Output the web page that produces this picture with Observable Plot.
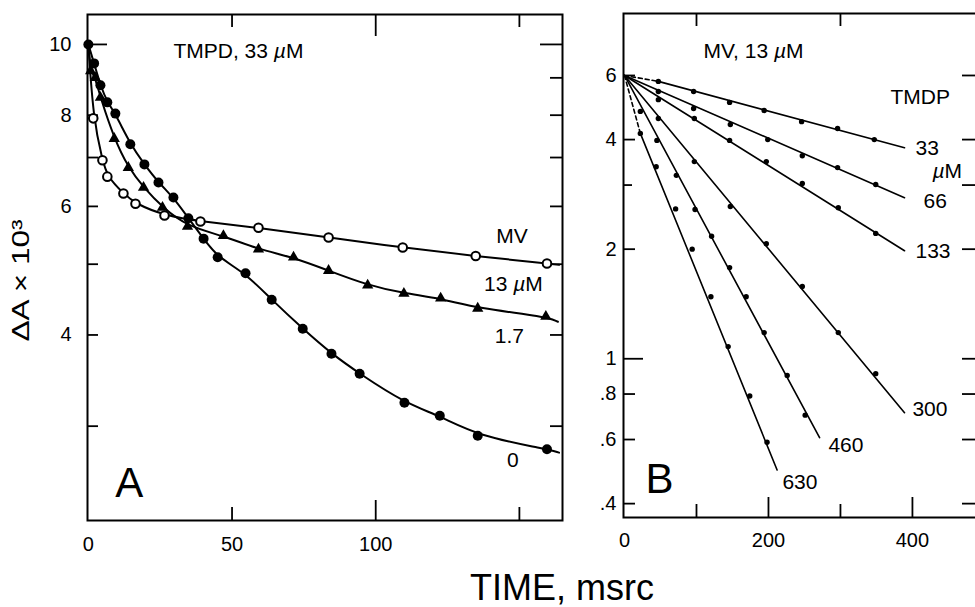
<!DOCTYPE html>
<html>
<head>
<meta charset="utf-8">
<script src="https://cdn.jsdelivr.net/npm/d3@7"></script>
<script src="https://cdn.jsdelivr.net/npm/@observablehq/plot@0.6"></script>
<style>
  html, body { margin: 0; padding: 0; background: #fff; }
  #root { position: relative; width: 975px; height: 607px; overflow: hidden; background: #fff;
          font-family: "Liberation Sans", Arial, Helvetica, sans-serif; color: #000; }
  #root svg { position: absolute; top: 0; }
  #xtitle { position: absolute; left: 362px; width: 400px; top: 570px; text-align: center;
            font-size: 36px; line-height: 1; white-space: nowrap; }
</style>
</head>
<body>
<div id="root"><div id="xtitle">TIME, msrc</div></div>
<script>
// ---------------- Panel A data (ΔA×10³ vs time, ms) ----------------
const aTime0  = [0, 2, 4.2, 6.6, 9.4, 14.6, 19.5, 24.4, 29.6, 34.8, 40.1, 45, 54.7, 63.8, 74.6, 84.6, 94.4, 110, 122.3, 135.5, 159.6];
const aVal0   = [10, 9.42, 8.79, 8.33, 8.04, 7.30, 6.85, 6.47, 6.17, 5.78, 5.42, 5.11, 4.86, 4.47, 4.08, 3.77, 3.54, 3.23, 3.10, 2.91, 2.79];
const aTime17 = [0, 0.8, 2.4, 4.2, 9.0, 13.9, 19.2, 25.8, 34.5, 47, 59.2, 71.4, 83.6, 97.2, 109.8, 122.6, 135.5, 159.2];
const aVal17  = [10, 9.2, 9.0, 8.46, 7.43, 6.78, 6.37, 5.98, 5.63, 5.47, 5.24, 5.11, 4.90, 4.68, 4.56, 4.49, 4.35, 4.24];
const aTime13 = [0, 1.7, 4.9, 6.6, 12.2, 16.4, 26.5, 39.0, 59.2, 83.6, 109.4, 134.8, 159.6];
const aVal13  = [10, 7.92, 6.94, 6.59, 6.25, 6.05, 5.83, 5.72, 5.61, 5.44, 5.27, 5.13, 5.01];
// where each drawn curve ends (0, 1.7, 13 µM MV)
const aEndTime = [163.8, 163.4, 163.8];
const aEndVal  = [2.76, 4.17, 4.99];

const aYTickLabels = [4, 6, 8, 10];
const aYTicksLeft  = [3, 4, 5, 6, 7, 8];
const aYTicksRight = [3, 4, 5, 6, 7, 8, 9];
const aYTicksLong  = [10];
const aXTickLabels = [0, 50, 100];
const aXTicksShort = [50, 150];
const aXTicksLong  = [100];

const aLabels   = ["MV", "13 µM", "1.7", "0"];
const aLabelX   = [147.4, 147.9, 146.5, 147.7];
const aLabelY   = [5.34, 4.60, 3.894, 2.634];

// ---------------- Panel B data (MV 13 µM, varying TMPD) ----------------
const bTime33  = [47, 96, 146, 194, 246, 296, 347];
const bVal33   = [5.78, 5.42, 5.06, 4.81, 4.48, 4.29, 4.00];
const bTime66  = [47, 96, 147, 199, 247, 296, 349];
const bVal66   = [5.42, 4.87, 4.40, 4.00, 3.61, 3.35, 3.01];
const bTime133 = [47, 97, 146, 197, 247, 297, 349];
const bVal133  = [5.15, 4.57, 3.98, 3.48, 3.03, 2.60, 2.21];
const bTime300 = [47, 97, 147, 197, 247, 297, 349];
const bVal300  = [4.57, 3.48, 2.62, 2.07, 1.58, 1.18, 0.91];
const bTime460 = [22, 45, 72, 98, 121, 146, 169, 194, 226, 251];
const bVal460  = [4.78, 3.98, 3.19, 2.57, 2.17, 1.78, 1.48, 1.18, 0.90, 0.70];
const bTime630 = [22, 44, 71, 94, 120, 144, 174, 198];
const bVal630  = [4.16, 3.37, 2.58, 2.00, 1.48, 1.08, 0.79, 0.59];
// fitted straight lines (log scale): start and end of each drawn line
const bLineStartTime = [47, 0, 0, 0, 0, 22];
const bLineStartVal  = [5.78, 6, 6, 6, 6, 4.16];
const bLineEndTime   = [389, 389, 389, 389, 271, 212];
const bLineEndVal    = [3.80, 2.77, 1.98, 0.711, 0.607, 0.495];
// dashed extrapolations back to t = 0 (33 and 630 µM)
const bDashStartTime = [0, 0];
const bDashStartVal  = [6, 6];
const bDashEndTime   = [47, 22];
const bDashEndVal    = [5.78, 4.16];

const bYTickLabelVals = [6, 4, 2, 1, 0.8, 0.6, 0.4];
const bYTickLabelText = ["6", "4", "2", "1", ".8", ".6", ".4"];
const bYTicksLeft  = [6, 4, 2, 0.8, 0.6, 0.4];
const bYTicksSmall = [3];
const bYTicksLong  = [1];
const bYTicksRight = [6, 4, 3, 2, 1, 0.8, 0.6, 0.4];
const bXTickLabels = [0, 200, 400];
const bXTicksShort = [100, 300];
const bXTicksLong  = [200, 400];
const bXTicksTop   = [100, 300];

const bLabels = ["TMDP", "33", "µM", "66", "133", "300", "460", "630"];
const bLabelX = [369.4, 404.2, 427.8, 415.3, 404.2, 400, 283.3, 219.4];
const bLabelY = [5.025, 3.617, 3.147, 2.587, 1.886, 0.698, 0.553, 0.440];

// ---------------- helpers ----------------
const FONT = '"Liberation Sans", Arial, Helvetica, sans-serif';
const K = "#000";
const pts = (ts, vs) => ts.map((t, i) => ({t, v: vs[i]}));
const seg = (t0, v0, t1, v1) => [{t: t0, v: v0}, {t: t1, v: v1}];

// ---------------- Panel A ----------------
const A_W = 575, A_H = 560, A_ML = 87, A_MR = 13, A_MT = 14, A_MB = 40;
const aPW = A_W - A_ML - A_MR, aPH = A_H - A_MT - A_MB;

const curve0  = [...pts(aTime0, aVal0),  {t: aEndTime[0], v: aEndVal[0]}];
const curve17 = [...pts(aTime17, aVal17), {t: aEndTime[1], v: aEndVal[1]}];
const curve13 = [...pts(aTime13, aVal13), {t: aEndTime[2], v: aEndVal[2]}];

const plotA = Plot.plot({
  width: A_W, height: A_H,
  marginLeft: A_ML, marginRight: A_MR, marginTop: A_MT, marginBottom: A_MB,
  x: {domain: [-0.3, 165], axis: null},
  y: {type: "log", domain: [2.228, 10.99], axis: null},
  style: {fontFamily: FONT, background: "transparent", overflow: "visible", color: "#000"},
  marks: [
    Plot.tickY(aYTicksLeft,  {y: d => d, insetRight: aPW - 11, stroke: K, strokeWidth: 1.8}),
    Plot.tickY(aYTicksLong,  {y: d => d, insetRight: aPW - 20, stroke: K, strokeWidth: 1.8}),
    Plot.tickY(aYTicksRight, {y: d => d, insetLeft: aPW - 12, stroke: K, strokeWidth: 1.8}),
    Plot.tickY(aYTicksLong,  {y: d => d, insetLeft: aPW - 22, stroke: K, strokeWidth: 1.8}),
    Plot.tickX(aXTicksShort, {x: d => d, insetTop: aPH - 13, stroke: K, strokeWidth: 1.8}),
    Plot.tickX(aXTicksLong,  {x: d => d, insetTop: aPH - 20, stroke: K, strokeWidth: 1.8}),
    Plot.tickX(aXTicksShort, {x: d => d, insetBottom: aPH - 13, stroke: K, strokeWidth: 1.8}),
    Plot.tickX(aXTicksLong,  {x: d => d, insetBottom: aPH - 22, stroke: K, strokeWidth: 1.8}),
    Plot.frame({stroke: K, strokeWidth: 2}),
    Plot.text(aYTickLabels, {y: d => d, text: d => String(d), frameAnchor: "left", textAnchor: "end", dx: -16, fontSize: 20, fill: K}),
    Plot.text(aXTickLabels, {x: d => d, text: d => String(d), frameAnchor: "bottom", lineAnchor: "top", dy: 16, fontSize: 20, fill: K}),
    Plot.line(curve13, {x: "t", y: "v", curve: "basis", stroke: K, strokeWidth: 2}),
    Plot.line(curve17, {x: "t", y: "v", curve: "basis", stroke: K, strokeWidth: 2}),
    Plot.line(curve0,  {x: "t", y: "v", curve: "basis", stroke: K, strokeWidth: 2}),
    Plot.dot(pts(aTime13, aVal13).filter(d => d.t > 0), {x: "t", y: "v", r: 4.3, fill: "#fff", stroke: K, strokeWidth: 2}),
    Plot.dot(pts(aTime17, aVal17).filter(d => d.t > 0), {x: "t", y: "v", r: 4.2, symbol: "triangle", fill: K}),
    Plot.dot(pts(aTime0, aVal0), {x: "t", y: "v", r: 5, fill: K}),
    Plot.text(aLabels, {x: (d, i) => aLabelX[i], y: (d, i) => aLabelY[i], text: d => d, lineAnchor: "bottom", textAnchor: "middle", fontSize: 21, fill: K}),
    Plot.text(["TMPD, 33 µM"], {x: 29.6, y: 9.57, text: d => d, lineAnchor: "bottom", textAnchor: "start", fontSize: 21, fill: K}),
    Plot.text(["A"], {x: 9.4, y: 2.396, text: d => d, lineAnchor: "bottom", textAnchor: "start", fontSize: 42, fill: K}),
    Plot.text(["ΔA × 10³"], {frameAnchor: "left", rotate: -90, dx: -59, dy: 13, text: d => d, lineAnchor: "bottom", textAnchor: "middle", fontSize: 24, fill: K})
  ]
});

// ---------------- Panel B ----------------
const B_LEFT = 580;
const B_W = 398, B_H = 560, B_ML = 43, B_MR = 2, B_MT = 13, B_MB = 43;
const bPW = B_W - B_ML - B_MR, bPH = B_H - B_MT - B_MB;

const bLineMarks = bLineStartTime.map((t0, i) =>
  Plot.line(seg(t0, bLineStartVal[i], bLineEndTime[i], bLineEndVal[i]), {x: "t", y: "v", stroke: K, strokeWidth: 1.6}));
const bDashMarks = bDashStartTime.map((t0, i) =>
  Plot.line(seg(t0, bDashStartVal[i], bDashEndTime[i], bDashEndVal[i]), {x: "t", y: "v", stroke: K, strokeWidth: 1.6, strokeDasharray: "4,3"}));
const bSeries = [[bTime33, bVal33], [bTime66, bVal66], [bTime133, bVal133], [bTime300, bVal300], [bTime460, bVal460], [bTime630, bVal630]];
const bDotMarks = bSeries.map(([ts, vs]) => Plot.dot(pts(ts, vs), {x: "t", y: "v", r: 2.7, fill: K}));

const plotB = Plot.plot({
  width: B_W, height: B_H,
  marginLeft: B_ML, marginRight: B_MR, marginTop: B_MT, marginBottom: B_MB,
  x: {domain: [-1.4, 489], axis: null},
  y: {type: "log", domain: [0.3664, 8.88], axis: null},
  style: {fontFamily: FONT, background: "transparent", overflow: "visible", color: "#000"},
  marks: [
    Plot.tickY(bYTicksLeft,  {y: d => d, insetRight: bPW - 12, stroke: K, strokeWidth: 1.8}),
    Plot.tickY(bYTicksSmall, {y: d => d, insetRight: bPW - 9, stroke: K, strokeWidth: 1.8}),
    Plot.tickY(bYTicksLong,  {y: d => d, insetRight: bPW - 20, stroke: K, strokeWidth: 1.8}),
    Plot.tickY(bYTicksRight, {y: d => d, insetLeft: bPW - 14, stroke: K, strokeWidth: 1.8}),
    Plot.tickX(bXTicksShort, {x: d => d, insetTop: bPH - 13, stroke: K, strokeWidth: 1.8}),
    Plot.tickX(bXTicksLong,  {x: d => d, insetTop: bPH - 20, stroke: K, strokeWidth: 1.8}),
    Plot.tickX(bXTicksTop,   {x: d => d, insetBottom: bPH - 13, stroke: K, strokeWidth: 1.8}),
    Plot.frame({stroke: K, strokeWidth: 2}),
    Plot.text(bYTickLabelVals, {y: d => d, text: (d, i) => bYTickLabelText[i], frameAnchor: "left", textAnchor: "end", dx: -7, fontSize: 20, fill: K}),
    Plot.text(bXTickLabels, {x: d => d, text: d => String(d), frameAnchor: "bottom", lineAnchor: "top", dy: 15, fontSize: 20, fill: K}),
    ...bDashMarks,
    ...bLineMarks,
    ...bDotMarks,
    Plot.text(bLabels, {x: (d, i) => bLabelX[i], y: (d, i) => bLabelY[i], text: d => d, lineAnchor: "bottom", textAnchor: "start", fontSize: 21, fill: K}),
    Plot.text(["MV, 13 µM"], {x: 109.7, y: 6.72, text: d => d, lineAnchor: "bottom", textAnchor: "start", fontSize: 21, fill: K}),
    Plot.text(["B"], {x: 29, y: 0.429, text: d => d, lineAnchor: "bottom", textAnchor: "start", fontSize: 42, fill: K})
  ]
});

const root = document.getElementById("root");
plotA.style.left = "0px";
plotB.style.left = B_LEFT + "px";
root.appendChild(plotA);
root.appendChild(plotB);

// italic µ, as in the original typesetting
function italicMu(svg) {
  const walker = document.createTreeWalker(svg, NodeFilter.SHOW_TEXT);
  const nodes = [];
  while (walker.nextNode()) if (walker.currentNode.nodeValue.includes("µ")) nodes.push(walker.currentNode);
  for (const n of nodes) {
    const parts = n.nodeValue.split("µ");
    const frag = document.createDocumentFragment();
    parts.forEach((p, i) => {
      if (i > 0) {
        const ts = document.createElementNS("http://www.w3.org/2000/svg", "tspan");
        ts.setAttribute("font-style", "italic");
        ts.textContent = "µ";
        frag.appendChild(ts);
      }
      if (p) frag.appendChild(document.createTextNode(p));
    });
    n.parentNode.replaceChild(frag, n);
  }
}
italicMu(plotA);
italicMu(plotB);

// the rotated y label is set long and wide in the original
for (const t of plotA.querySelectorAll("text")) {
  if (t.textContent.startsWith("ΔA")) { t.setAttribute("textLength", "122"); t.setAttribute("lengthAdjust", "spacingAndGlyphs"); }
}
</script>
</body>
</html>
